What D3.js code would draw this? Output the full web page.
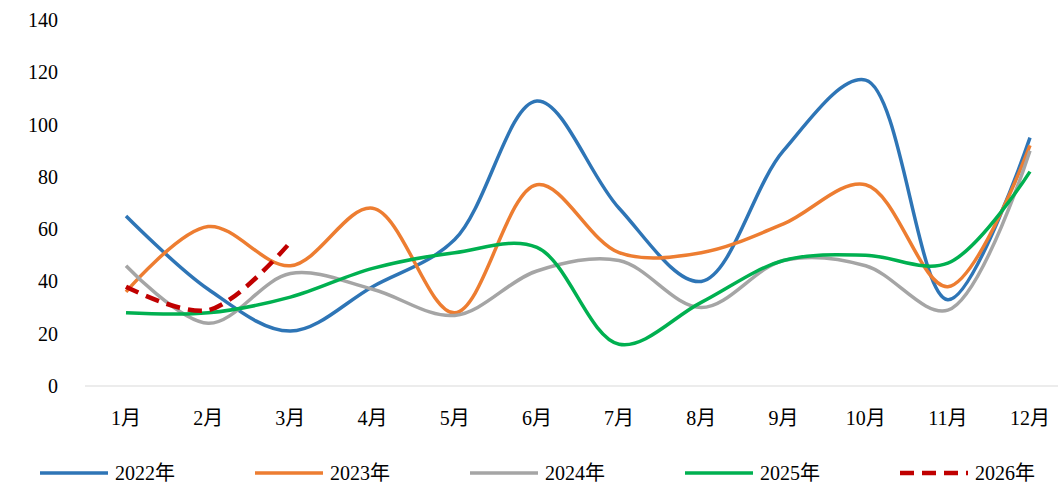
<!DOCTYPE html>
<html><head><meta charset="utf-8">
<script src="https://cdn.jsdelivr.net/npm/d3@7.9.0/dist/d3.min.js"></script>
<style>body{margin:0;background:#fff}svg{font-family:"Liberation Serif","Noto Sans CJK SC",serif}</style>
</head><body><svg id="c" width="1058" height="487"></svg>
<script>
const months = ['1月','2月','3月','4月','5月','6月','7月','8月','9月','10月','11月','12月'];
const s2022 = [65,37,21,38,56,109,68,40,90,117,33,95];
const s2023 = [36,61,46,68,28,77,51,51,62,77,38,92];
const s2024 = [46,24,43,37,27,44,48,30,48,46,29,90];
const s2025 = [28,28,34,45,51,53,16,32,48,50,47,82];
const s2026 = [38,29,55];
const series = [
  {name:'2022年', values:s2022, color:'#2E75B6'},
  {name:'2023年', values:s2023, color:'#ED7D31'},
  {name:'2024年', values:s2024, color:'#A5A5A5'},
  {name:'2025年', values:s2025, color:'#00B050'},
  {name:'2026年', values:s2026, color:'#C00000', dash:'14,8'}
];
const svg = d3.select('#c');
const x = d3.scalePoint().domain(months).range([126,1030]);
const y = d3.scaleLinear().domain([0,140]).range([386,20]);
svg.append('line').attr('x1',85).attr('x2',1058).attr('y1',y(0)).attr('y2',y(0)).attr('stroke','#d9d9d9');
y.ticks(7).forEach(t=>{
  svg.append('text').attr('x',58).attr('y',y(t)+7).attr('text-anchor','end').attr('font-size',20).text(t);
});
months.forEach(m=>{
  svg.append('text').attr('x',x(m)).attr('y',425).attr('text-anchor','middle').attr('font-size',20).text(m);
});
const line = d3.line().x((d,i)=>x(months[i])).y(d=>y(d)).curve(d3.curveCatmullRom.alpha(0.5));
series.forEach(s=>{
  svg.append('path').attr('d',line(s.values)).attr('fill','none').attr('stroke',s.color)
    .attr('stroke-width',s.dash?4.5:3.5).attr('stroke-dasharray',s.dash||null);
});
const lx = [40,255,470,685,900];
series.forEach((s,i)=>{
  svg.append('line').attr('x1',lx[i]).attr('x2',lx[i]+68).attr('y1',473).attr('y2',473)
    .attr('stroke',s.color).attr('stroke-width',s.dash?4.5:3.5).attr('stroke-dasharray',s.dash?'14,8':null);
  svg.append('text').attr('x',lx[i]+75).attr('y',480).attr('font-size',20).text(s.name);
});
</script></body></html>
